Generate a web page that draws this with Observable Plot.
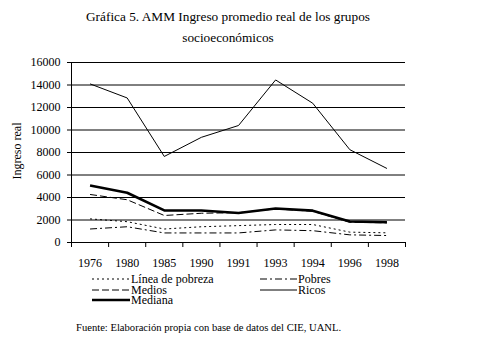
<!DOCTYPE html>
<html>
<head>
<meta charset="utf-8">
<script src="https://cdn.jsdelivr.net/npm/d3@7"></script>
<script src="https://cdn.jsdelivr.net/npm/@observablehq/plot@0.6"></script>
<style>
  body { margin: 0; background: #fff; }
  #wrap { position: relative; width: 481px; height: 347px; font-family: "Liberation Serif", serif; color: #000; overflow: hidden; }
  #title { position: absolute; left: 0; top: 6px; width: 456px; text-align: center; font-size: 13.3px; line-height: 21px; font-family: "Liberation Serif", serif; }
  #ylab { position: absolute; left: 17px; top: 151px; transform: translate(-50%, -50%) rotate(-90deg); font-size: 12px; line-height: 12px; white-space: nowrap; font-family: "Liberation Serif", serif; }
  #chart { position: absolute; left: 0; top: 0; }
  .leg { position: absolute; font-size: 12px; line-height: 10px; white-space: nowrap; display: flex; align-items: center; height: 10px; font-family: "Liberation Serif", serif; }
  .leg svg { display: block; margin-right: 1px; }
  #caption { position: absolute; left: 76px; top: 322px; font-size: 10.6px; line-height: 12px; white-space: nowrap; font-family: "Liberation Serif", serif; }
</style>
</head>
<body>
<div id="wrap">
  <div id="title">Gráfica 5. AMM Ingreso promedio real de los grupos<br>socioeconómicos</div>
  <div id="chart"></div>
  <div id="ylab">Ingreso real</div>
  <div id="legend"></div>
  <div id="caption">Fuente: Elaboración propia con base de datos del CIE, UANL.</div>
</div>
<script>
const years = ["1976", "1980", "1985", "1990", "1991", "1993", "1994", "1996", "1998"];
const lineaPobreza = [2100, 1850, 1200, 1400, 1500, 1600, 1600, 920, 860];
const pobres = [1200, 1400, 850, 850, 850, 1120, 1050, 680, 620];
const medios = [4270, 3800, 2400, 2600, 2650, 2980, 2780, 1800, 1750];
const ricos = [14100, 12850, 7650, 9350, 10400, 14450, 12380, 8250, 6580];
const mediana = [5070, 4420, 2850, 2850, 2620, 3020, 2830, 1870, 1800];
const yTicks = [0, 2000, 4000, 6000, 8000, 10000, 12000, 14000, 16000];

const series = [
  {name: "Línea de pobreza", values: lineaPobreza, width: 1, dash: "2,3"},
  {name: "Pobres", values: pobres, width: 1, dash: "7,3,2,3"},
  {name: "Medios", values: medios, width: 1, dash: "7,3"},
  {name: "Ricos", values: ricos, width: 1, dash: null},
  {name: "Mediana", values: mediana, width: 2.6, dash: null}
];

const rows = s => s.values.map((v, i) => ({x: i + 0.5, y: v}));

const plot = Plot.plot({
  width: 481,
  height: 272,
  marginTop: 62,
  marginBottom: 30,
  marginLeft: 71,
  marginRight: 76,
  style: {fontFamily: "Liberation Serif, serif", fontSize: "12px", background: "transparent", color: "#000"},
  x: {domain: [0, years.length], axis: null},
  y: {domain: [0, 16000], axis: null},
  marks: [
    Plot.gridY(yTicks, {stroke: "#000", strokeOpacity: 1, strokeWidth: 1}),
    Plot.axisY({ticks: yTicks, tickSize: 4, tickPadding: 7, tickFormat: d3.format("d"), label: null, fontSize: 12}),
    Plot.ruleX([0], {stroke: "#000"}),
    Plot.axisX({ticks: d3.range(years.length + 1), tickSize: 5, tickFormat: () => "", label: null}),
    Plot.axisX({ticks: years.map((_, i) => i + 0.5), tickSize: 0, tickPadding: 16, tickFormat: d => years[Math.round(d - 0.5)], label: null, fontSize: 12}),
    ...series.map(s => Plot.line(rows(s), {x: "x", y: "y", stroke: "#000", strokeWidth: s.width, strokeDasharray: s.dash, strokeLinecap: "butt", strokeLinejoin: "round"}))
  ]
});
document.getElementById("chart").appendChild(plot);

// Legend
const legendPos = [
  {name: "Línea de pobreza", left: 92, top: 279},
  {name: "Pobres", left: 260, top: 279},
  {name: "Medios", left: 92, top: 290},
  {name: "Ricos", left: 260, top: 290},
  {name: "Mediana", left: 92, top: 300}
];
const legend = document.getElementById("legend");
for (const p of legendPos) {
  const s = series.find(d => d.name === p.name);
  const w = p.left === 92 ? 38 : 37;
  const div = document.createElement("div");
  div.className = "leg";
  div.style.left = p.left + "px";
  div.style.top = (p.top - 5) + "px";
  div.innerHTML = `<svg width="${w}" height="10"><line x1="0" x2="${w}" y1="5" y2="5" stroke="#000" stroke-width="${s.width}" ${s.dash ? `stroke-dasharray="${s.dash}"` : ""}/></svg><span>${s.name}</span>`;
  legend.appendChild(div);
}
</script>
</body>
</html>
